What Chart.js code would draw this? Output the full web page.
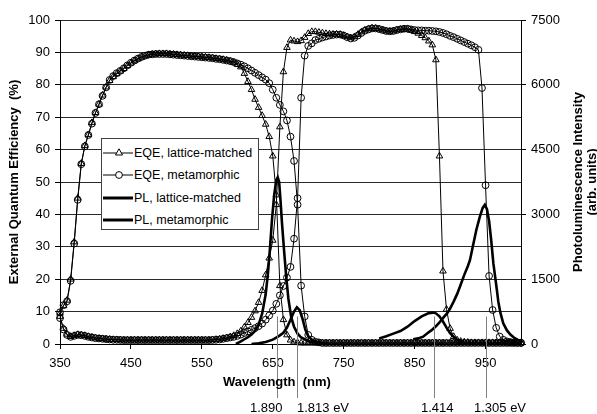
<!DOCTYPE html>
<html>
<head>
<meta charset="utf-8">
<title>EQE and PL</title>
<script src="https://cdn.jsdelivr.net/npm/chart.js@4.4.1/dist/chart.umd.min.js"></script>
<style>
    body { margin: 0; background: #fff; }
    #wrap { position: relative; width: 597px; height: 414px; font-family: "Liberation Sans", Arial, sans-serif; }
    #legend { position: absolute; left: 101px; top: 138px; width: 158px; height: 92px; box-sizing: border-box;
              border: 1px solid #404040; background: #fff; }
    #legend .row { position: absolute; left: 0; height: 16px; line-height: 16px; white-space: nowrap; font-size: 12.5px; color: #000; }
    #legend svg { position: absolute; left: 0; top: 0; }
    #legend span { position: absolute; left: 32px; top: 0; }
</style>
</head>
<body>
<div id="wrap">
    <canvas id="eqeChart" width="597" height="414"></canvas>
    <div id="legend"></div>
</div>

<script>
// wavelength grid of the EQE measurement (nm)
var wl = [
    350, 355, 360, 365, 370, 375, 380, 385, 390, 395,
    400, 405, 410, 415, 420, 425, 430, 435, 440, 445,
    450, 455, 460, 465, 470, 475, 480, 485, 490, 495,
    500, 505, 510, 515, 520, 525, 530, 535, 540, 545,
    550, 555, 560, 565, 570, 575, 580, 585, 590, 595,
    600, 605, 610, 615, 620, 625, 630, 635, 640, 645,
    650, 655, 660, 665, 670, 675, 680, 685, 690, 695,
    700, 705, 710, 715, 720, 725, 730, 735, 740, 745,
    750, 755, 760, 765, 770, 775, 780, 785, 790, 795,
    800, 805, 810, 815, 820, 825, 830, 835, 840, 845,
    850, 855, 860, 865, 870, 875, 880, 885, 890, 895,
    900, 905, 910, 915, 920, 925, 930, 935, 940, 945,
    950, 955, 960, 965, 970, 975, 980, 985, 990, 995,
    1000
];

// EQE (%), top subcell, lattice-matched
var eqeTopLm = [
    9.5, 11.8, 13.5, 20, 31.5, 45, 55.7, 61.2, 64.6, 68.3,
    71.4, 74, 76.8, 79.3, 81.3, 82.5, 83.4, 84.2, 85, 85.9,
    86.7, 87.4, 88, 88.5, 88.9, 89.2, 89.4, 89.5, 89.6, 89.6,
    89.6, 89.5, 89.4, 89.3, 89.2, 89.1, 89, 88.9, 88.8, 88.7,
    88.6, 88.5, 88.4, 88.3, 88.1, 88, 87.8, 87.6, 87.3, 86.9,
    86.3, 85.5, 83.5, 81, 78.5, 75.5, 73, 70.5, 67.8, 64,
    58, 46, 18, 7.5, 2.8, 1.2, 0.6, 0.4, 0.3, 0.3,
    0.3, 0.3, 0.3, 0.3, 0.3, 0.3, 0.3, 0.3, 0.3, 0.3,
    0.3, 0.3, 0.3, 0.3, 0.3, 0.3, 0.3, 0.3, 0.3, 0.3,
    0.3, 0.3, 0.3, 0.3, 0.3, 0.3, 0.3, 0.3, 0.3, 0.3,
    0.3, 0.3, 0.3, 0.3, 0.3, 0.3, 0.3, 0.3, 0.3, 0.3,
    0.3, 0.3, 0.3, 0.3, 0.3, 0.3, 0.3, 0.3, 0.3, 0.3,
    0.3, 0.3, 0.3, 0.3, 0.3, 0.3, 0.3, 0.3, 0.3, 0.3,
    0.3
];

// EQE (%), bottom subcell, lattice-matched
var eqeBotLm = [
    8.5, 4.8, 3, 2.3, 2.6, 2.9, 2.8, 2.6, 2.3, 2.1,
    1.9, 1.7, 1.6, 1.5, 1.4, 1.35, 1.3, 1.25, 1.2, 1.2,
    1.2, 1.2, 1.2, 1.2, 1.2, 1.2, 1.2, 1.2, 1.2, 1.2,
    1.2, 1.2, 1.2, 1.2, 1.2, 1.2, 1.2, 1.2, 1.2, 1.2,
    1.2, 1.2, 1.2, 1.3, 1.4, 1.5, 1.7, 1.9, 2.2, 2.6,
    3.2, 4, 5.2, 6.6, 8.2, 10.2, 12.8, 16.5, 21.3, 26.5,
    32, 43, 67, 84, 91.5, 93.8, 93.5, 93.3, 93.6, 94.6,
    95.8, 96.4, 96.4, 96.2, 96, 95.8, 95.7, 95.6, 95.6, 95.5,
    95.2, 94.8, 94.5, 94.8, 95.5, 96.3, 96.9, 97.3, 97.5, 97.4,
    97.2, 96.9, 96.6, 96.5, 96.6, 96.9, 97.1, 97.2, 97.1, 96.8,
    96.4, 95.9, 95.2, 94.5, 93.5, 92.3, 87.7, 58, 22.5, 10.7,
    4.8, 2.3, 1.2, 0.8, 0.6, 0.5, 0.4, 0.4, 0.4, 0.4,
    0.4, 0.4, 0.4, 0.4, 0.4, 0.4, 0.4, 0.4, 0.4, 0.4,
    0.4
];

// EQE (%), top subcell, metamorphic
var eqeTopMm = [
    9.8, 12, 13.2, 19.5, 31, 44.5, 55.5, 61, 64.5, 68,
    71.3, 74, 76.6, 79.2, 81.5, 82.7, 83.6, 84.3, 85.1, 86,
    86.8, 87.5, 88.1, 88.6, 89, 89.3, 89.4, 89.5, 89.5, 89.5,
    89.5, 89.4, 89.3, 89.2, 89.1, 89, 88.9, 88.8, 88.7, 88.6,
    88.5, 88.4, 88.3, 88.2, 88, 87.9, 87.7, 87.5, 87.3, 87,
    86.6, 86.2, 85.7, 85.1, 84.4, 83.7, 83, 82.3, 81.6, 80.5,
    78.5, 76, 73.8, 71.8, 69, 64, 56.5, 43, 18, 8.5,
    2.8, 1.3, 0.7, 0.5, 0.3, 0.3, 0.3, 0.3, 0.3, 0.3,
    0.3, 0.3, 0.3, 0.3, 0.3, 0.3, 0.3, 0.3, 0.3, 0.3,
    0.3, 0.3, 0.3, 0.3, 0.3, 0.3, 0.3, 0.3, 0.3, 0.3,
    0.3, 0.3, 0.3, 0.3, 0.3, 0.3, 0.3, 0.3, 0.3, 0.3,
    0.3, 0.3, 0.3, 0.3, 0.3, 0.3, 0.3, 0.3, 0.3, 0.3,
    0.3, 0.3, 0.3, 0.3, 0.3, 0.3, 0.3, 0.3, 0.3, 0.3,
    0.3
];

// EQE (%), bottom subcell, metamorphic
var eqeBotMm = [
    8, 4.5, 2.8, 2.2, 2.5, 2.8, 2.7, 2.5, 2.2, 2,
    1.8, 1.7, 1.6, 1.5, 1.4, 1.3, 1.3, 1.25, 1.2, 1.2,
    1.2, 1.2, 1.2, 1.2, 1.2, 1.2, 1.2, 1.2, 1.2, 1.2,
    1.2, 1.2, 1.2, 1.2, 1.2, 1.2, 1.2, 1.2, 1.2, 1.2,
    1.2, 1.2, 1.2, 1.25, 1.3, 1.4, 1.6, 1.8, 2, 2.2,
    2.5, 2.9, 3.4, 3.9, 4.4, 4.9, 5.5, 6.3, 7.5, 8.8,
    10.3, 12.4, 15, 17.9, 20.5, 23.8, 32.5, 45, 76, 89,
    92, 92.8, 93.8, 94.2, 94.6, 94.9, 95.2, 95.4, 95.5, 95.5,
    95.2, 94.7, 94.3, 94.5, 95.2, 96, 96.7, 97.1, 97.4, 97.4,
    97.2, 96.9, 96.6, 96.5, 96.6, 96.9, 97.1, 97.3, 97.3, 97.1,
    96.9, 96.8, 96.8, 96.7, 96.7, 96.6, 96.5, 96.3, 96, 95.6,
    95.1, 94.7, 94.2, 93.7, 93.2, 92.7, 92.2, 91.6, 90.8, 79,
    49, 21, 10.5, 5, 2.3, 1.3, 0.8, 0.6, 0.5, 0.4,
    0.4
];

// PL, lattice-matched (arb. units), null = break between the two spectral ranges
var plLmWl = [598, 605, 610, 615, 620, 625, 630, 635, 640, 643, 646, 649, 652, 655, 657, 659, 661, 663, 666, 669,
              672, 676, 680, 685, 690, 700, 710, 722, 760,
              800, 810, 820, 830, 840, 850, 860, 870, 876, 880, 885, 890, 895, 900, 905, 910, 915, 920, 925, 930];
var plLm = [0, 60, 110, 160, 220, 300, 450, 700, 1150, 1600, 2200, 2900, 3450, 3800, 3860, 3750, 3300, 2800, 2150, 1550,
            1050, 620, 400, 240, 150, 70, 30, 0, null,
            130, 180, 240, 300, 400, 530, 640, 715, 727, 710, 640, 520, 380, 250, 165, 100, 55, 25, 8, 0];

// PL, metamorphic (arb. units)
var plMmWl = [620, 630, 640, 650, 655, 660, 665, 670, 675, 680, 684, 688, 692, 696, 700, 705, 710, 720, 730, 790,
              848, 855, 862, 868, 874, 880, 886, 892, 896, 900, 905, 910, 914, 920, 925, 928, 932, 937, 942, 946,
              949, 952, 955, 958, 961, 964, 966, 968, 971, 975, 980, 985, 990, 995, 1000];
var plMm = [0, 15, 45, 100, 150, 200, 260, 380, 560, 750, 850, 780, 580, 330, 180, 100, 55, 20, 0, null,
            110, 130, 170, 250, 320, 410, 520, 640, 712, 820, 980, 1160, 1330, 1600, 1800, 1940, 2250, 2640, 2950, 3150,
            3220, 3120, 2850, 2400, 1870, 1500, 1250, 980, 720, 480, 320, 220, 150, 100, 60];

var xTicks = [350, 450, 550, 650, 750, 850, 950];

// bandgap markers under the axis
var gapWl = [656, 684, 877, 950];
var gapLabels = ["1.890", "1.813 eV", "1.414", "1.305 eV"];

var legendItems = [
    { text: "EQE, lattice-matched", marker: "triangle", width: 1 },
    { text: "EQE, metamorphic", marker: "circle", width: 1 },
    { text: "PL, lattice-matched", marker: "", width: 3 },
    { text: "PL, metamorphic", marker: "", width: 3 }
];


function toPoints(xs, ys) {
    var out = [];
    for (var i = 0; i < xs.length; i++) {
        out.push({ x: xs[i], y: ys[i] });
    }
    return out;
}

function eqeSet(label, xs, ys, style) {
    return {
        label: label,
        data: toPoints(xs, ys),
        yAxisID: 'y',
        borderColor: '#000',
        borderWidth: 1,
        pointStyle: style,
        pointRadius: style === 'triangle' ? 3.8 : 3.4,
        pointBorderWidth: 1,
        pointBorderColor: '#000',
        pointBackgroundColor: 'rgba(255,255,255,0)',
        tension: 0,
        clip: false
    };
}

function plSet(label, xs, ys) {
    return {
        label: label,
        data: toPoints(xs, ys),
        yAxisID: 'y2',
        borderColor: '#000',
        borderWidth: 2.6,
        pointRadius: 0,
        tension: 0,
        spanGaps: false
    };
}

// plain numbers on the axes, no thousands separator
function plainTick(value) {
    return String(value);
}

// legend box (html, sits over the plot like in the original)
var legendHtml = "";
var rowTops = [6, 28, 51, 73];
for (var i = 0; i < legendItems.length; i++) {
    var it = legendItems[i];
    var svg = '<svg width="32" height="16"><line x1="1" y1="8" x2="31" y2="8" stroke="#000" stroke-width="' + it.width + '"/>';
    if (it.marker === "triangle") {
        svg += '<polygon points="17,3.8 20.5,10 13.5,10" fill="#fff" stroke="#000" stroke-width="1"/>';
    } else if (it.marker === "circle") {
        svg += '<circle cx="17" cy="8" r="3.4" fill="#fff" stroke="#000" stroke-width="1"/>';
    }
    svg += '</svg>';
    legendHtml += '<div class="row" style="top:' + rowTops[i] + 'px">' + svg + '<span>' + it.text + '</span></div>';
}
document.getElementById('legend').innerHTML = legendHtml;


var extras = {
    id: 'extras',
    afterDraw: function (chart) {
        var ctx = chart.ctx;
        var xs = chart.scales.x;
        var ys = chart.scales.y;
        var dx = [-27, 0, -13, -12];

        ctx.save();
        ctx.strokeStyle = '#808080';
        ctx.lineWidth = 1;
        for (var i = 0; i < gapWl.length; i++) {
            var px = Math.round(xs.getPixelForValue(gapWl[i])) + 0.5;
            ctx.beginPath();
            ctx.moveTo(px, ys.getPixelForValue(8.5));
            ctx.lineTo(px, 398);
            ctx.stroke();
        }

        ctx.fillStyle = '#000';
        ctx.font = '13px "Liberation Sans", Arial, sans-serif';
        ctx.textAlign = 'left';
        ctx.textBaseline = 'alphabetic';
        for (var j = 0; j < gapLabels.length; j++) {
            var lx = Math.round(xs.getPixelForValue(gapWl[j])) + dx[j];
            ctx.fillText(gapLabels[j], lx, 412);
        }

        // axis titles
        ctx.font = 'bold 13px "Liberation Sans", Arial, sans-serif';
        ctx.textAlign = 'center';
        ctx.fillText('Wavelength  (nm)', 277, 386);

        ctx.save();
        ctx.translate(18, 182);
        ctx.rotate(-Math.PI / 2);
        ctx.fillText('External Quantum Efficiency  (%)', 0, 0);
        ctx.restore();

        ctx.save();
        ctx.translate(582, 182);
        ctx.rotate(-Math.PI / 2);
        ctx.fillText('Photoluminescence Intensity', 0, 0);
        ctx.fillText('(arb. units)', 0, 13.5);
        ctx.restore();

        ctx.restore();
    }
};

Chart.defaults.font.family = '"Liberation Sans", Arial, sans-serif';
Chart.defaults.font.size = 13;
Chart.defaults.color = '#000';

var ctx = document.getElementById('eqeChart').getContext('2d');
var chart = new Chart(ctx, {
    type: 'line',
    data: {
        datasets: [
            plSet('PL, lattice-matched', plLmWl, plLm),
            plSet('PL, metamorphic', plMmWl, plMm),
            eqeSet('EQE, lattice-matched', wl, eqeTopLm, 'triangle'),
            eqeSet('EQE, lattice-matched (bottom)', wl, eqeBotLm, 'triangle'),
            eqeSet('EQE, metamorphic', wl, eqeTopMm, 'circle'),
            eqeSet('EQE, metamorphic (bottom)', wl, eqeBotMm, 'circle')
        ]
    },
    options: {
        responsive: false,
        animation: false,
        devicePixelRatio: 1,
        layout: { padding: { top: 20 } },
        plugins: {
            legend: { display: false },
            tooltip: { enabled: false }
        },
        scales: {
            x: {
                type: 'linear',
                min: 350,
                max: 1000,
                afterBuildTicks: function (scale) {
                    scale.ticks = xTicks.map(function (v) { return { value: v }; });
                },
                afterFit: function (scale) { scale.height = 70; },
                grid: { drawOnChartArea: false, tickLength: 5, tickColor: '#000' },
                border: { color: '#000', width: 1 },
                ticks: { padding: 7, maxRotation: 0, autoSkip: false, callback: plainTick }
            },
            y: {
                position: 'left',
                min: 0,
                max: 100,
                afterFit: function (scale) { scale.width = 60; },
                grid: { color: '#2a2a2a', tickLength: 5, tickColor: '#000' },
                border: { color: '#000', width: 1 },
                ticks: { stepSize: 10, padding: 5, callback: plainTick }
            },
            y2: {
                position: 'right',
                min: 0,
                max: 7500,
                afterFit: function (scale) { scale.width = 76; },
                grid: { drawOnChartArea: false, tickLength: 5, tickColor: '#000' },
                border: { color: '#000', width: 1 },
                ticks: { stepSize: 1500, padding: 5, callback: plainTick }
            }
        }
    },
    plugins: [extras]
});
</script>
</body>
</html>
